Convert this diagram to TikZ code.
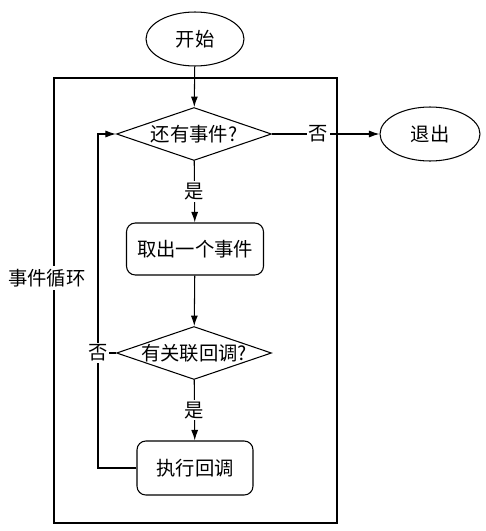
\documentclass[tikz,border=0pt]{standalone}
\usepackage{fontspec}
\newfontfamily\cjk{Noto Sans CJK SC}
\usetikzlibrary{
    arrows.meta,
    positioning,
    shapes.geometric
}
\tikzset{
    line cap=round,
    line join=round,
    every node/.style={font=\cjk\fontsize{11}{13}\selectfont},
    terminal/.style={
        ellipse,
        draw,
        line width=0.6pt,
        inner sep=0pt,
        minimum width=1.96cm,
        minimum height=1.08cm
    },
    stepbox/.style={
        rectangle,
        draw,
        line width=0.6pt,
        rounded corners=5pt,
        inner sep=0pt,
        minimum height=1.04cm
    },
    decision/.style={
        diamond,
        draw,
        line width=0.6pt,
        aspect=2.9,
        inner sep=0pt,
        minimum width=3.1cm,
        minimum height=1.06cm
    },
    flow/.style={
        -{Latex[length=6pt, width=4pt]},
        line width=0.6pt
    },
    edgelabel/.style={
        fill=white,
        inner sep=1pt
    }
}

\begin{document}
\begin{tikzpicture}[x=0.02cm, y=-0.02cm]

\useasboundingbox (0,0) rectangle (485,531);

% loop frame
\draw[line width=0.6pt] (54,78) rectangle (337,523);
\node[fill=white, inner sep=2pt] (looplabel) at (47,278) {事件循环};

% nodes
\node[terminal] (start) at (195,39) {开始};
\node[decision] (more) at (194,134) {还有事件?};
\node[terminal, minimum width=2cm] (quit) at (430,134) {退出};
\node[stepbox, minimum width=2.74cm] (fetch) at (195,249) {取出一个事件};
\node[decision, inner xsep=-4pt] (hascb) at (194,353) {有关联回调?};
\node[stepbox, minimum width=2.32cm, minimum height=1.08cm] (run) at (195,468) {执行回调};

\coordinate (loopx) at (98,0);

% connectors
\draw[flow] (start) -- (more);
\draw[flow] (more) -- node[edgelabel, pos=0.43] {否} (quit);
\draw[flow] (more) -- node[edgelabel] {是} (fetch);
\draw[flow] (fetch) -- (hascb);
\draw[flow] (hascb) -- node[edgelabel] {是} (run);
\draw[flow] (run.west) -- (run.west -| loopx) |- (more.west);
\draw[line width=0.6pt] (hascb.west) -- (hascb.west -| loopx)
    node[edgelabel] (nolabel) {否};

\end{tikzpicture}
\end{document}
